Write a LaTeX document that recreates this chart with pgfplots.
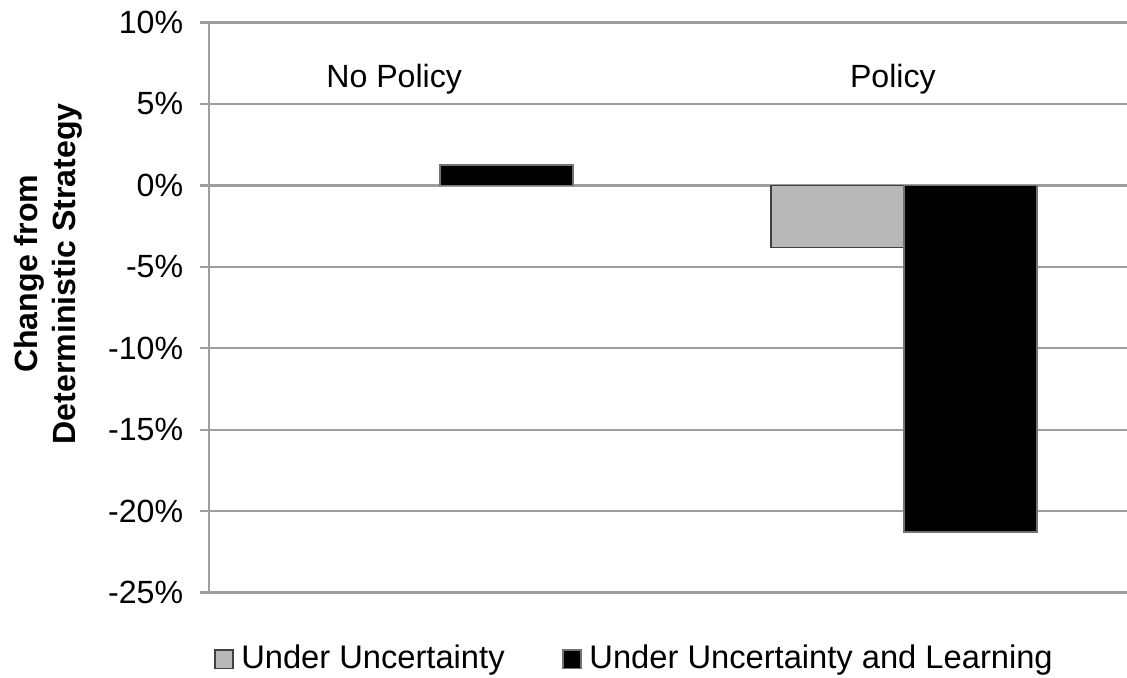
\documentclass[border=0pt]{standalone}
\usepackage{pgfplots}
\pgfplotsset{compat=1.18}
\usepackage{fontspec}
\setmainfont{Liberation Sans}
\begin{document}
\fontsize{11.4pt}{13.7pt}\selectfont
\begin{tikzpicture}
\begin{axis}[
  scale only axis,
  width=325.8pt, height=202.3pt,
  xmin=-0.498, xmax=1.4806,
  ymin=-25, ymax=10,
  ytick={-25,-20,...,10},
  yticklabel={\pgfmathprintnumber{\tick}\%},
  yticklabel style={xshift=-2pt},
  /pgf/number format/assume math mode=true,
  axis x line=none,
  axis y line*=left,
  y axis line style={black!38, line width=0.8pt},
  ymajorgrids,
  grid style={black!38, line width=0.8pt},
  tick align=center,
  major tick length=6.4pt,
  ytick style={black!38, line width=0.8pt},
  xtick=\empty,
  clip=false,
  legend columns=2,
  legend style={draw=none, fill=none, at={(rel axis cs:0.005,-0.117)}, anchor=west,
    inner xsep=0pt, inner ysep=0pt, font=\fontsize{11.6pt}{14pt}\selectfont,
    /tikz/every even column/.append style={column sep=18.5pt}},
  legend image code/.code={\draw[#1] (0pt,-3.2pt) rectangle (6.4pt,3.2pt); \path (7.1pt,0pt);},
]
\addplot[ybar, bar width=0.2866, bar shift=-0.1433, fill=black!28, draw=black!75, line width=0.5pt]
  coordinates {(1,-3.82)};
\addlegendentry{Under Uncertainty}
\addplot[ybar, bar width=0.2866, bar shift=0.1433, fill=black, draw=black!55, line width=0.5pt]
  coordinates {(0,1.24) (1,-21.29)};
\addlegendentry{Under Uncertainty and Learning}
\node at (axis cs:-0.099,6.51) {No Policy};
\node at (axis cs:0.976,6.51) {Policy};
\node[rotate=90, align=center, font=\bfseries] at (axis cs:-0.845,-5.43) {Change from\\Deterministic Strategy};
\end{axis}
\pgfresetboundingbox
\path ([xshift=-74.2pt,yshift=-30pt]current axis.south west) rectangle ([yshift=8pt]current axis.north east);
\end{tikzpicture}
\end{document}
